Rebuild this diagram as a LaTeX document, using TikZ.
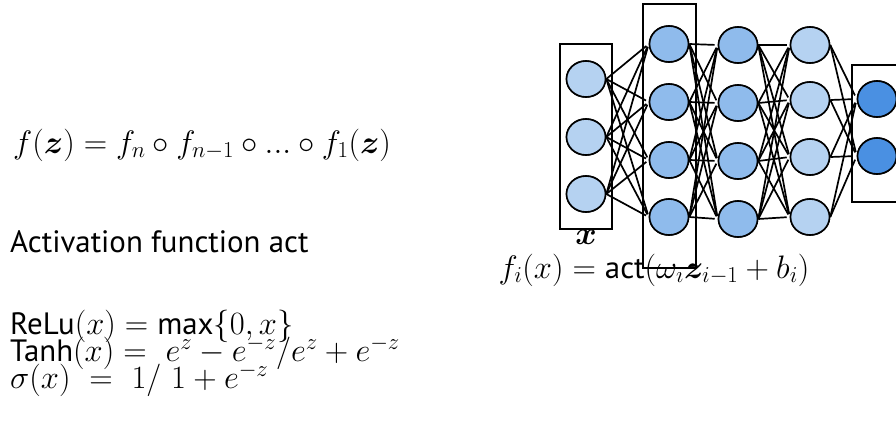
\RequirePackage{fix-cm}
\documentclass[tikz,border=0pt]{standalone}
\usepackage{amsmath,amssymb,bm}
\usepackage{fontspec}
\setsansfont{PT Sans}[Scale=0.95]
\usetikzlibrary{shapes.geometric}
\definecolor{nlight}{RGB}{181,210,241}
\definecolor{nmid}{RGB}{143,187,236}
\definecolor{ndark}{RGB}{74,144,226}
\tikzset{
  neuron/.style={ellipse,draw=black,line width=1.6pt,minimum width=39pt,minimum height=36pt,inner sep=0pt},
  lbox/.style={draw=black,line width=2.2pt},
  conn/.style={draw=black,line width=1.7pt,shorten >=3pt},
  txt/.style={inner sep=0pt,font=\fontsize{32.5}{38}\selectfont},
}
\begin{document}
\begin{tikzpicture}[x=1pt,y=-1pt]
\useasboundingbox (0,0) rectangle (896,434);
\clip (0,0) rectangle (896,434);
% boxes
\draw[lbox] (560,44) rectangle (612,229);
\draw[lbox] (643,4) rectangle (696,268);
\draw[lbox] (852,65) rectangle (900,202);
% nodes
\foreach \i/\y in {1/79,2/137,3/194} {\node[neuron,fill=nlight] (a\i) at (586,\y) {};}
\foreach \i/\y in {1/44,2/102,3/160,4/217} {\node[neuron,fill=nmid] (b\i) at (669,\y) {};}
\foreach \i/\y in {1/45,2/103,3/161,4/219} {\node[neuron,fill=nmid] (c\i) at (738,\y) {};}
\foreach \i/\y in {1/45,2/100,3/157,4/217} {\node[neuron,fill=nlight] (d\i) at (810,\y) {};}
\foreach \i/\y in {1/99,2/156} {\node[neuron,fill=ndark] (e\i) at (877,\y) {};}
% connections
\foreach \i in {1,2,3} \foreach \j in {1,2,3,4} {\draw[conn] (a\i.east) -- (b\j.west);}
\foreach \i in {1,2,3,4} \foreach \j in {1,2,3,4} {\draw[conn] (b\i.east) -- (c\j.west);}
\foreach \i in {1,2,3,4} \foreach \j in {1,2,3,4} {\draw[conn] (c\i.east) -- (d\j.west);}
\foreach \i in {1,2,3,4} \foreach \j in {1,2} {\draw[conn,shorten >=4pt] (d\i.east) -- (e\j.west);}
% redraw nodes on top
\foreach \i/\y in {1/79,2/137,3/194} {\node[neuron,fill=nlight] at (586,\y) {};}
\foreach \i/\y in {1/44,2/102,3/160,4/217} {\node[neuron,fill=nmid] at (669,\y) {};}
\foreach \i/\y in {1/45,2/103,3/161,4/219} {\node[neuron,fill=nmid] at (738,\y) {};}
\foreach \i/\y in {1/45,2/100,3/157,4/217} {\node[neuron,fill=nlight] at (810,\y) {};}
\foreach \i/\y in {1/99,2/156} {\node[neuron,fill=ndark] at (877,\y) {};}
% labels
\node[txt] (xlab) at (586,237) {$\bm{x}$};
\node[txt,anchor=base] (fi) at (654,278) {$f_i(x) = \textsf{act}(\omega_i \bm{z}_{i-1} + b_i)$};
\node[txt,anchor=base west] (comp) at (13,153) {$f(\bm{z}) = f_n \circ f_{n-1} \circ ... \circ f_1(\bm{z})$};
\node[txt,anchor=base west] (act) at (10,252) {\sffamily Activation function act};
\node[txt,anchor=base west] (relu) at (10,334) {$\textsf{ReLu}(x) = \textsf{max}\{0, x\}$};
\node[txt,anchor=base west] (tanh) at (10,361) {$\textsf{Tanh}(x) = \ e^z - e^{-z}/e^z + e^{-z}$};
\node[txt,anchor=base west] (sig) at (10,388) {$\sigma(x) \ = \ 1/\ 1 + e^{-z}$};
\end{tikzpicture}
\end{document}
